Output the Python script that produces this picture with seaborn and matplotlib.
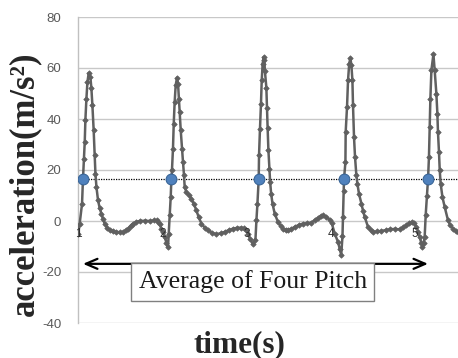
import matplotlib
matplotlib.use("Agg")
import matplotlib.pyplot as plt
import seaborn as sns
import pandas as pd

# ---- data ----
time_s = [
    1.000, 1.020, 1.048, 1.059, 1.071, 1.080, 1.088, 1.100, 1.112, 1.127,
    1.147, 1.159, 1.171, 1.186, 1.198, 1.207, 1.219, 1.238, 1.258, 1.278,
    1.297, 1.317, 1.347, 1.376, 1.416, 1.456, 1.495, 1.534, 1.566, 1.594,
    1.626, 1.653, 1.694, 1.733, 1.792, 1.852, 1.899, 1.935, 1.950, 1.970,
    1.990, 2.009, 2.030, 2.050, 2.069, 2.077, 2.089, 2.101, 2.109, 2.116,
    2.128, 2.137, 2.148, 2.160, 2.176, 2.188, 2.198, 2.208, 2.220, 2.235,
    2.247, 2.259, 2.267, 2.287, 2.315, 2.347, 2.374, 2.406, 2.433, 2.466,
    2.505, 2.544, 2.588, 2.644, 2.695, 2.742, 2.790, 2.841, 2.891, 2.941,
    2.968, 2.992, 3.019, 3.045, 3.075, 3.107, 3.119, 3.131, 3.146, 3.150,
    3.161, 3.173, 3.182, 3.193, 3.205, 3.213, 3.220, 3.237, 3.244, 3.252,
    3.261, 3.273, 3.282, 3.294, 3.310, 3.336, 3.375, 3.407, 3.435, 3.467,
    3.494, 3.532, 3.574, 3.621, 3.672, 3.722, 3.772, 3.811, 3.850, 3.882,
    3.910, 3.950, 3.989, 4.013, 4.049, 4.088, 4.108, 4.126, 4.141, 4.147,
    4.155, 4.159, 4.176, 4.179, 4.195, 4.207, 4.221, 4.235, 4.247, 4.259,
    4.266, 4.278, 4.290, 4.306, 4.318, 4.337, 4.366, 4.385, 4.405, 4.444,
    4.474, 4.503, 4.553, 4.603, 4.654, 4.702, 4.761, 4.820, 4.860, 4.900,
    4.933, 4.963, 4.993, 5.019, 5.040, 5.058, 5.076, 5.090, 5.105, 5.117,
    5.129, 5.145, 5.157, 5.168, 5.177, 5.185, 5.197, 5.221, 5.236, 5.256,
    5.268, 5.275, 5.287, 5.296, 5.307, 5.328, 5.355, 5.394, 5.420, 5.454,
    5.486, 5.513,
]
acceleration = [
    -5.2, -1.0, 6.8, 16.4, 24.5, 31.0, 39.8, 48.0, 54.5, 58.0,
    56.5, 52.0, 45.4, 35.6, 25.8, 18.6, 13.3, 8.1, 5.0, 2.9,
    0.8, -1.0, -2.6, -3.6, -4.1, -4.3, -4.4, -4.3, -3.6, -3.0,
    -1.8, -1.0, -0.3, 0.0, 0.1, 0.0, 0.2, 0.3, -0.4, -1.2,
    -3.0, -4.5, -6.3, -8.5, -10.2, -5.0, 2.2, 9.4, 16.4, 19.9,
    28.4, 38.2, 46.7, 53.2, 56.2, 53.9, 48.0, 42.7, 35.6, 28.4,
    23.1, 17.9, 13.3, 11.4, 10.2, 8.8, 6.8, 4.2, 1.5, -1.0,
    -2.6, -3.6, -4.6, -5.2, -4.8, -4.3, -3.6, -3.0, -2.7, -2.6,
    -2.9, -3.5, -5.0, -7.0, -8.9, -7.6, 0.3, 6.8, 16.4, 25.8,
    36.0, 45.9, 55.2, 61.7, 64.3, 63.0, 58.7, 52.3, 44.5, 36.5,
    28.0, 20.5, 15.3, 10.7, 6.8, 2.9, -0.4, -2.0, -3.0, -3.4,
    -3.6, -3.1, -2.3, -1.6, -1.0, -0.9, -0.6, 0.3, 1.2, 2.0,
    2.2, 1.6, 0.5, -0.8, -5.0, -8.2, -10.8, -13.3, -6.0, 1.6,
    11.6, 16.4, 23.1, 34.9, 44.7, 55.2, 61.7, 63.9, 61.0, 55.2,
    45.4, 32.9, 25.1, 17.9, 14.7, 10.7, 6.8, 4.0, 1.6, -2.3,
    -3.5, -4.3, -4.1, -3.9, -3.6, -3.3, -3.1, -3.3, -2.4, -1.7,
    -0.9, -0.4, -0.9, -2.3, -4.2, -6.3, -8.5, -10.2, -8.5, -6.3,
    2.2, 10.0, 16.4, 25.0, 37.0, 48.0, 59.1, 65.4, 59.1, 50.0,
    42.1, 34.9, 27.1, 19.9, 14.7, 9.4, 5.5, 0.3, -1.6, -3.0,
    -3.9, -4.3,
]
pitch_time = [1.059, 2.109, 3.146, 4.159, 5.157]
pitch_value = [16.5, 16.5, 16.5, 16.5, 16.5]
average_level = 16.6
x_ticks = [1, 2, 3, 4, 5]
x_tick_labels = ["1", "2", "3", "4", "5"]
y_ticks = [-40, -20, 0, 20, 40, 60, 80]
annotation_text = "Average of Four Pitch"
x_label = "time(s)"
y_label = "acceleration(m/s²)"

df = pd.DataFrame({"t": time_s, "a": acceleration})
dp = pd.DataFrame({"t": pitch_time, "a": pitch_value})

sns.set_theme(style="white")
plt.rcParams["font.family"] = ["DejaVu Sans"]

fig = plt.figure(figsize=(4.58, 3.58), dpi=100)
ax = fig.add_axes([78 / 458, 1 - 323 / 358, 1 - 78 / 458, (323 - 17) / 358])

ax.axhline(average_level, color="black", lw=0.9, ls=(0, (1, 1)), zorder=2)

sns.lineplot(data=df, x="t", y="a", ax=ax, sort=False, estimator=None,
             color="#606060", lw=1.8, marker="D", markersize=2.8,
             markeredgewidth=0.5, markeredgecolor="#606060", zorder=3)
sns.scatterplot(data=dp, x="t", y="a", ax=ax, s=60, color="#4f81bd",
                edgecolor="#3a6698", linewidth=0.8, zorder=4)

ax.set_xlim(1, 5.513)
ax.set_ylim(-40, 80)
ax.set_yticks(y_ticks)
ax.set_yticklabels([str(v) for v in y_ticks])
ax.set_xticks(x_ticks)
ax.set_xticklabels(x_tick_labels)
ax.grid(axis="y", color="#c8c8c8", lw=1.0)
ax.grid(axis="x", visible=False)
for s in ["top", "right"]:
    ax.spines[s].set_visible(False)
ax.spines["left"].set_color("#c0c0c0")
ax.spines["left"].set_linewidth(1.0)
ax.spines["bottom"].set_position(("data", 0))
ax.spines["bottom"].set_visible(False)
ax.tick_params(axis="y", length=0, pad=12, labelsize=9.5, labelcolor="#595959")
ax.tick_params(axis="x", length=0, pad=5, labelsize=8.5, labelcolor="#303030")
ax.xaxis.set_zorder(6)
for lab in ax.get_yticklabels() + ax.get_xticklabels():
    lab.set_fontfamily(["Liberation Sans", "DejaVu Sans"])
ax.set_xlabel("")
ax.set_ylabel("")

# double arrow spanning the four pitches
ax.annotate("", xy=(pitch_time[0], -16.8), xytext=(pitch_time[-1], -16.8),
            arrowprops=dict(arrowstyle="<->,head_length=0.7,head_width=0.3",
                            color="black", lw=1.6, shrinkA=0, shrinkB=0),
            zorder=5)
ax.text(3.075, -23.9, annotation_text, ha="center", va="center",
        fontsize=18.5, family=["Liberation Serif"], color="#1a1a1a",
        bbox=dict(boxstyle="square,pad=0.28", fc="white", ec="#808080", lw=1.0),
        zorder=5)

fig.text(239 / 458, 1 - 345 / 358, x_label, ha="center", va="center",
         fontsize=22.5, fontweight="bold", family=["Liberation Serif"])
fig.text(25 / 458, 1 - 184 / 358, y_label, ha="center", va="center",
         rotation=90, fontsize=25, fontweight="bold", family=["Liberation Serif"])

fig.savefig("out.png", dpi=100)
